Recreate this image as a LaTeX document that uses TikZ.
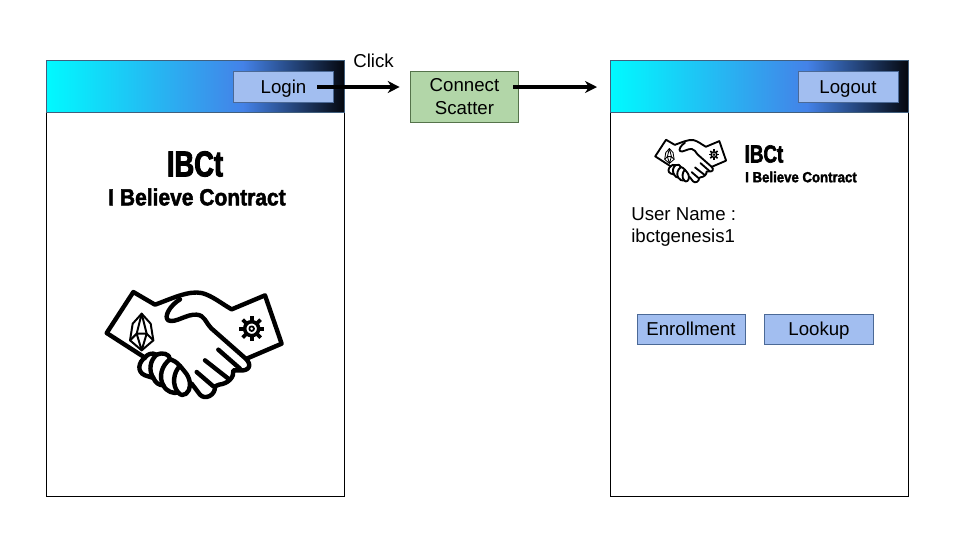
\documentclass[tikz,border=0pt]{standalone}
\usepackage{fontspec}
\setmainfont{Liberation Sans}
\newfontfamily\titlefont[FakeStretch=0.76,FakeBold=2.5]{Liberation Sans Bold}
\newfontfamily\subfont[FakeStretch=0.9,FakeBold=2]{Liberation Sans Bold}
\usetikzlibrary{arrows.meta}
\definecolor{barcyan}{RGB}{0,250,255}
\definecolor{barblue}{RGB}{68,130,232}
\definecolor{barblack}{RGB}{5,8,15}
\definecolor{barline}{RGB}{65,95,125}
\definecolor{btnfill}{RGB}{162,190,240}
\definecolor{btnline}{RGB}{75,105,150}
\definecolor{scatterfill}{RGB}{178,214,168}
\definecolor{scatterline}{RGB}{85,115,75}
\pgfdeclarehorizontalshading{topbar}{100bp}{color(0bp)=(barcyan); color(25bp)=(barcyan); color(58bp)=(barblue); color(75bp)=(barblack); color(100bp)=(barblack)}
\tikzset{
  screenbox/.style={draw=black,line width=0.6pt,fill=white},
  barbox/.style={shading=topbar,draw=barline,line width=0.7pt},
  btn/.style={draw=btnline,fill=btnfill,line width=0.7pt,minimum width=75pt,minimum height=23pt,inner sep=0pt,text height=10pt,text depth=1pt,font=\fontsize{14}{15}\selectfont},
  plaintext/.style={inner sep=0pt,font=\fontsize{14}{17}\selectfont},
  flow/.style={line width=2.5pt,-{Stealth[length=9pt,width=9pt]}},
  hand/.style={line width=#1,line join=round,line cap=round},
}
% handshake drawn around its own centre: {x}{y}{scale}{line width}
\newcommand{\handshake}[4]{
  \begin{scope}[shift={(#1,#2)},scale=#3,hand=#4]
    % cuffs and upper hand
    \draw (-150,47) -- (-265,-27) -- (-185,-150) -- (-120,-112)
      .. controls (-70,-130) and (-20,-155) .. (20,-147)
      .. controls (50,-140) and (80,-115) .. (110,-98)
      -- (210,-140) -- (260,5) -- (155,50);
    % thumb and back of the right hand
    \draw (-45,-128) .. controls (-75,-110) and (-95,-75) .. (-80,-65)
      .. controls (-60,-55) and (-25,-85) .. (5,-82)
      .. controls (30,-80) and (30,-60) .. (50,-40)
      -- (150,48) .. controls (175,70) and (160,88) .. (135,85)
      -- (115,85) .. controls (118,105) and (100,125) .. (72,128)
      -- (60,133) .. controls (62,160) and (30,175) .. (15,158) -- (-10,125);
    % fingers
    \draw (70,23) -- (135,80);
    \draw (30,55) -- (100,110);
    \draw (5,90) -- (55,133);
    % fist on the left
    \draw (-150,47) .. controls (-170,60) and (-175,90) .. (-150,100)
      -- (-125,108) .. controls (-118,125) and (-105,130) .. (-95,130)
      .. controls (-85,150) and (-65,155) .. (-50,152)
      .. controls (-35,170) and (-15,150) .. (-15,130)
      .. controls (-15,100) and (-35,85) .. (-45,72)
      .. controls (-55,60) and (-65,55) .. (-75,52)
      .. controls (-75,35) and (-100,30) .. (-115,38)
      .. controls (-130,30) and (-145,38) .. (-150,47);
    % knuckles
    \draw (-115,38) .. controls (-135,55) and (-140,85) .. (-125,108);
    \draw (-75,52) .. controls (-100,70) and (-110,105) .. (-95,130);
    \draw (-45,72) .. controls (-65,90) and (-70,130) .. (-50,152);
    % logo on the left cuff
    \begin{scope}[line width=0.45*#4]
      \draw (-160,-85) -- (-133,-55) -- (-125,-5) -- (-160,25) -- (-195,-5) -- (-187,-55) -- cycle;
      \draw (-160,-85) -- (-175,-25) -- (-195,-5) (-160,-85) -- (-145,-25) -- (-125,-5);
      \draw (-175,-25) -- (-145,-25) -- (-160,25) -- cycle;
    \end{scope}
    % gear on the right cuff
    \draw[line width=0.8*#4] (170,-40) circle (21);
    \draw[line width=0.4*#4] (170,-40) circle (7);
    \foreach \a in {0,45,...,315}
      \draw[line width=0.85*#4,line cap=butt] (170,-40) ++(\a:24) -- ++(\a:14);
  \end{scope}
}
\begin{document}
\begin{tikzpicture}[x=0.75pt,y=-0.75pt]
  \useasboundingbox (0,0) rectangle (960,540);
  \fill[white] (0,0) rectangle (960,540);
  % left screen
  \draw[screenbox] (46,60.5) rectangle (344,496);
  \draw[barbox] (46,60.5) rectangle (344,112);
  \node[btn] (login) at (283.5,87) {Login};
  \node[font={\titlefont\fontsize{27}{27}\selectfont},inner sep=0pt] (titleL) at (195,164) {IBCt};
  \node[font={\subfont\fontsize{17.5}{18}\selectfont},inner sep=0pt] (subL) at (197,197) {I Believe Contract};
  \handshake{195}{342}{0.3333}{3.3pt}
  % right screen
  \draw[screenbox] (610.5,60.5) rectangle (908,496);
  \draw[barbox] (610.5,60.5) rectangle (908,112);
  \node[btn] (logout) at (848,87) {Logout};
  \node[font={\titlefont\fontsize{18.5}{19}\selectfont},inner sep=0pt] (titleR) at (764,154) {IBCt};
  \node[font={\subfont\fontsize{11}{12}\selectfont},inner sep=0pt] (subR) at (801,177) {I Believe Contract};
  \handshake{691}{160}{0.135}{1.4pt}
  \node[plaintext,anchor=west] (username) at (631,214) {User Name :};
  \node[plaintext,anchor=west] (account) at (631,238) {ibctgenesis1};
  \node[btn,minimum width=81pt] (enroll) at (691,329.5) {Enrollment};
  \node[btn,minimum width=82pt] (lookup) at (819,329.5) {Lookup};
  % middle
  \node[draw=scatterline,fill=scatterfill,line width=0.7pt,minimum width=81.5pt,minimum height=38pt,inner sep=0pt,align=center,font=\fontsize{14}{17.3}\selectfont] (scatter) at (464.5,97) {Connect\\Scatter};
  \node[plaintext] (click) at (373.5,61) {Click};
  \coordinate (loginstart) at (317,87);
  \coordinate (scatterstart) at (513,87);
  \coordinate (logoutend) at (597,87);
  \draw[flow,shorten >=7.5pt] (loginstart) -- (scatter.west |- loginstart);
  \draw[flow] (scatterstart) -- (logoutend);
\end{tikzpicture}
\end{document}
